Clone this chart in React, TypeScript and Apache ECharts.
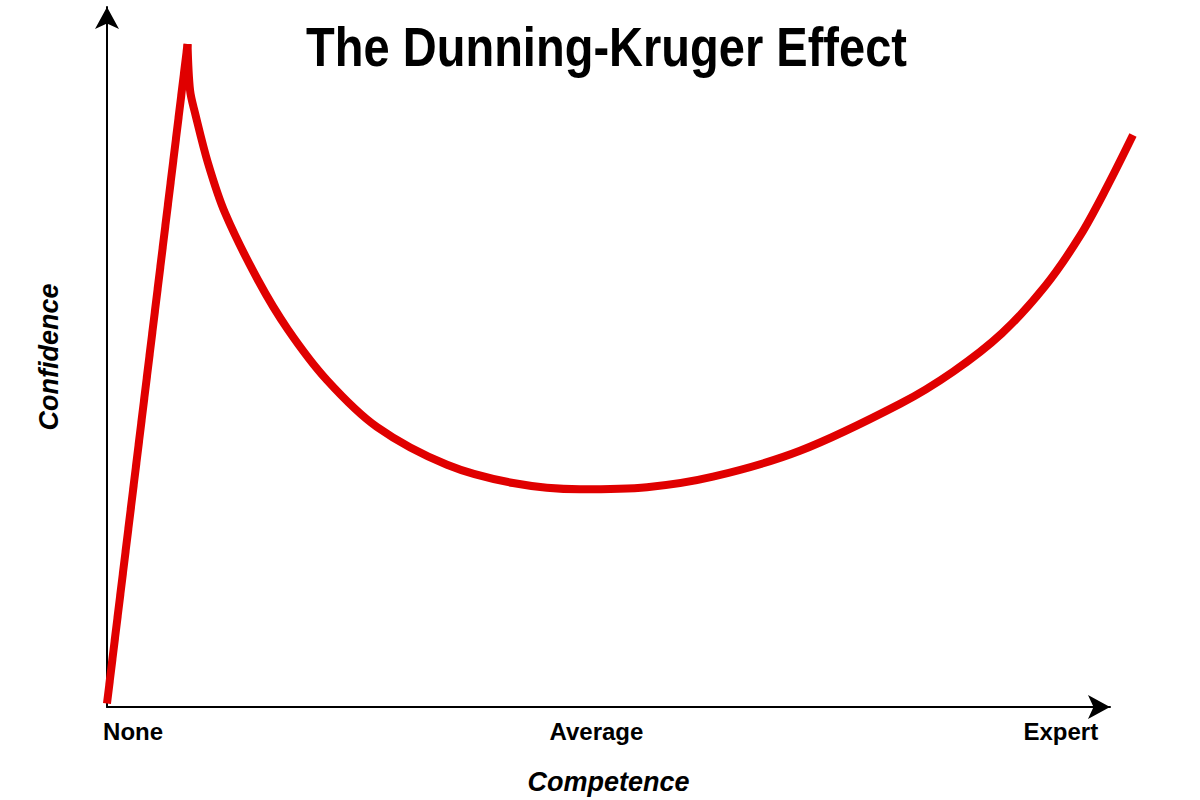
import React, { useEffect, useRef } from "react";
import * as echarts from "echarts";

const titleText = "The Dunning-Kruger Effect";
const xAxisName = "Competence";
const yAxisName = "Confidence";

// x axis labels and where they sit on the competence scale (0-100)
const competenceLabels = ["None", "Average", "Expert"];
const competenceLabelPos = [2.6, 48.8, 95.1];

// initial straight rise
const riseCompetence = [0, 8.03];
const riseConfidence = [0.5, 94.7];

// the curve after the peak (it runs a little past the end of the x axis arrow)
const curveCompetence = [8.03, 8.28, 8.77, 10.07, 11.76, 15.05, 18.05, 21.93, 26.92, 33.9, 40.48, 47.16, 53.84, 60.42, 69.09, 79.06, 84.35, 89.23, 93.52, 97.01, 99.7, 102.29];
const curveConfidence = [94.7, 88.1, 84.9, 77.7, 70.6, 61.0, 53.9, 46.7, 40.0, 34.6, 32.0, 31.1, 31.4, 32.9, 36.6, 43.3, 47.9, 53.4, 60.1, 67.3, 74.3, 81.7];

const zip = (xs: number[], ys: number[]) => xs.map((x, i) => [x, ys[i]]);

export default function App() {
  const ref = useRef<HTMLDivElement>(null);
  useEffect(() => {
    if (!ref.current) return;
    const chart = echarts.init(ref.current, null, { renderer: "svg" });
    const red = "#e00000";
    const axisEndX = 1110;
    const curveEndX = 1133;
    const left = 107;
    const xMaxCurve = (100 * (curveEndX - left)) / (axisEndX - left);
    const nameStyle = {
      fontFamily: "'Liberation Sans', Arial, sans-serif",
      fontWeight: "bold",
      fontStyle: "italic",
      fontSize: 27,
      color: "#000",
    };
    chart.setOption({
      animation: false,
      backgroundColor: "#ffffff",
      graphic: [
        {
          type: "text",
          x: 606.5,
          y: 19,
          scaleX: 0.84,
          style: {
            text: titleText,
            fontFamily: "'Liberation Sans', Arial, sans-serif",
            fontWeight: "bold",
            fontSize: 56,
            fill: "#000",
            textAlign: "center",
            textVerticalAlign: "top",
            align: "center",
            verticalAlign: "top",
          },
        },
      ],
      grid: [
        { left, right: 1200 - axisEndX, top: 7, bottom: 93, containLabel: false, outerBoundsMode: "none" },
        { left, right: 1200 - curveEndX, top: 7, bottom: 93, containLabel: false, outerBoundsMode: "none" },
      ],
      xAxis: [
        {
          type: "value",
          gridIndex: 0,
          min: 0,
          max: 100,
          name: xAxisName,
          nameLocation: "middle",
          nameGap: 61,
          nameTextStyle: nameStyle,
          axisLine: {
            show: true,
            symbol: ["none", "arrow"],
            symbolSize: [18, 22],
            symbolOffset: [0, 0],
            lineStyle: { color: "#000", width: 2 },
          },
          axisTick: { show: false },
          splitLine: { show: false },
          axisLabel: {
            customValues: competenceLabelPos,
            formatter: (v: number) => {
              const i = competenceLabelPos.indexOf(v);
              return i >= 0 ? competenceLabels[i] : "";
            },
            margin: 12,
            fontFamily: "'Liberation Sans', Arial, sans-serif",
            fontWeight: "bold",
            fontSize: 24,
            color: "#000",
          },
        },
        {
          type: "value",
          gridIndex: 1,
          min: 0,
          max: xMaxCurve,
          show: false,
          splitLine: { show: false },
        },
      ],
      yAxis: [
        {
          type: "value",
          gridIndex: 0,
          min: 0,
          max: 100,
          name: yAxisName,
          nameLocation: "middle",
          nameGap: 45,
          nameTextStyle: nameStyle,
          axisLine: {
            show: true,
            symbol: ["none", "arrow"],
            symbolSize: [18, 22],
            symbolOffset: [0, 0],
            lineStyle: { color: "#000", width: 2 },
          },
          axisTick: { show: false },
          axisLabel: { show: false },
          splitLine: { show: false },
        },
        {
          type: "value",
          gridIndex: 1,
          min: 0,
          max: 100,
          show: false,
          splitLine: { show: false },
        },
      ],
      series: [
        {
          type: "line",
          xAxisIndex: 1,
          yAxisIndex: 1,
          data: zip(riseCompetence, riseConfidence),
          showSymbol: false,
          clip: false,
          lineStyle: { color: red, width: 8, cap: "butt", join: "miter" },
          z: 3,
        },
        {
          type: "line",
          xAxisIndex: 1,
          yAxisIndex: 1,
          data: zip(curveCompetence, curveConfidence),
          showSymbol: false,
          smooth: 0.33,
          clip: false,
          lineStyle: { color: red, width: 8, cap: "butt", join: "round" },
          z: 3,
        },
      ],
    });
    return () => chart.dispose();
  }, []);
  return (
    <div
      ref={ref}
      style={{ position: "fixed", left: 0, top: 0, width: 1200, height: 800, background: "#fff" }}
    />
  );
}
